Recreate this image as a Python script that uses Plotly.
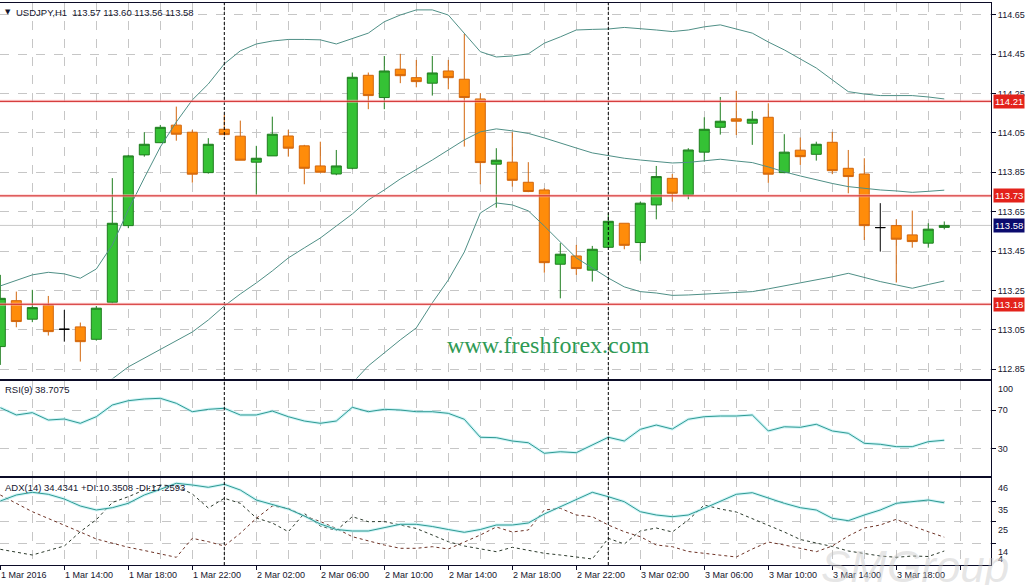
import pandas as pd
import plotly.graph_objects as go

# ---------------- data ----------------
times = pd.date_range("2016-03-01 10:00", periods=60, freq="h")
bars = list(range(len(times)))

opens = [112.965, 113.198, 113.104, 113.175, 113.053, 113.065, 113.002, 113.190, 113.579, 113.938,
         114.000, 114.089, 114.053, 113.848, 114.068, 114.033, 113.901, 113.933, 114.034, 113.984,
         113.882, 113.841, 113.870, 114.342, 114.229, 114.373, 114.330, 114.302, 114.364, 114.322,
         114.222, 113.891, 113.901, 113.799, 113.760, 113.383, 113.425, 113.353, 113.469, 113.591,
         113.493, 113.684, 113.819, 113.735, 113.952, 114.078, 114.121, 114.099, 114.129, 113.848,
         113.962, 113.941, 114.002, 113.870, 113.841, 113.569, 113.579, 113.532, 113.490, 113.570]
highs = [113.329, 113.244, 113.253, 113.222, 113.151, 113.087, 113.171, 113.820, 113.938, 114.053,
         114.090, 114.183, 114.065, 114.023, 114.141, 114.112, 113.984, 114.132, 114.065, 113.989,
         114.005, 113.963, 114.356, 114.356, 114.440, 114.451, 114.420, 114.440, 114.420, 114.552,
         114.251, 113.972, 114.053, 113.901, 113.769, 113.490, 113.481, 113.476, 113.642, 113.591,
         113.700, 113.882, 113.841, 113.972, 114.129, 114.232, 114.263, 114.161, 114.200, 114.043,
         114.026, 114.005, 114.055, 113.963, 113.921, 113.693, 113.611, 113.655, 113.591, 113.600]
lows = [112.872, 113.063, 113.089, 113.021, 112.990, 112.889, 112.995, 113.185, 113.566, 113.929,
        113.998, 114.010, 113.797, 113.843, 114.041, 113.911, 113.735, 113.933, 113.929, 113.789,
        113.850, 113.835, 113.865, 114.170, 114.170, 114.302, 114.281, 114.239, 114.271, 113.980,
        113.789, 113.670, 113.777, 113.749, 113.340, 113.210, 113.329, 113.295, 113.465, 113.459,
        113.401, 113.611, 113.701, 113.713, 113.904, 114.041, 114.039, 113.989, 113.796, 113.845,
        113.887, 113.909, 113.840, 113.743, 113.506, 113.447, 113.290, 113.467, 113.467, 113.560]
closes = [113.210, 113.092, 113.163, 113.041, 113.053, 112.990, 113.160, 113.591, 113.933, 113.992,
          114.078, 114.043, 113.840, 113.992, 114.041, 113.911, 113.921, 114.043, 113.972, 113.870,
          113.850, 113.882, 114.332, 114.239, 114.364, 114.340, 114.310, 114.354, 114.330, 114.229,
          113.899, 113.911, 113.809, 113.752, 113.391, 113.434, 113.361, 113.459, 113.601, 113.479,
          113.693, 113.828, 113.743, 113.963, 114.068, 114.109, 114.109, 114.119, 113.840, 113.952,
          113.929, 113.992, 113.858, 113.828, 113.579, 113.569, 113.510, 113.498, 113.561, 113.580]

bb_upper = [113.273, 113.303, 113.329, 113.342, 113.334, 113.312, 113.359, 113.481, 113.659, 113.821,
            113.978, 114.105, 114.217, 114.298, 114.400, 114.466, 114.501, 114.516, 114.524, 114.524,
            114.522, 114.501, 114.527, 114.556, 114.614, 114.648, 114.674, 114.674, 114.648, 114.557,
            114.462, 114.435, 114.440, 114.451, 114.505, 114.537, 114.572, 114.575, 114.577, 114.585,
            114.580, 114.572, 114.564, 114.572, 114.588, 114.598, 114.577, 114.556, 114.511, 114.471,
            114.425, 114.379, 114.319, 114.259, 114.247, 114.239, 114.239, 114.239, 114.232, 114.222]
bb_middle = [None] * 6 + [
            112.755, 112.801, 112.862, 112.907, 112.948, 112.994, 113.039, 113.100, 113.171, 113.232,
            113.288, 113.349, 113.415, 113.466, 113.516, 113.577, 113.638, 113.709, 113.760, 113.816,
            113.862, 113.912, 113.963, 114.014, 114.055, 114.070, 114.060, 114.047, 114.024, 113.997,
            113.973, 113.948, 113.933, 113.921, 113.912, 113.905, 113.897, 113.900, 113.907, 113.916,
            113.907, 113.899, 113.877, 113.852, 113.831, 113.811, 113.793, 113.777, 113.768, 113.760,
            113.755, 113.748, 113.753, 113.759]
bb_lower = [None] * 21 + [
            112.653, 112.780, 112.867, 112.933, 112.999, 113.060, 113.187, 113.303, 113.445,
            113.643, 113.694, 113.684, 113.654, 113.577, 113.498, 113.415, 113.364, 113.313, 113.268,
            113.244, 113.237, 113.225, 113.227, 113.232, 113.237, 113.240, 113.244, 113.258, 113.273,
            113.288, 113.303, 113.319, 113.337, 113.316, 113.295, 113.278, 113.261, 113.280, 113.298]

rsi = [72.7, 65.1, 67.5, 59.8, 60.9, 56.4, 63.3, 75.5, 80.0, 81.8,
       82.5, 77.3, 68.5, 71.0, 72.1, 65.1, 65.1, 69.2, 63.3, 58.8,
       56.4, 58.8, 73.1, 68.5, 71.0, 70.3, 68.5, 68.5, 66.8, 60.6,
       41.8, 41.4, 37.9, 36.1, 25.1, 26.7, 25.7, 33.7, 41.8, 37.9,
       50.1, 54.6, 50.4, 60.6, 63.3, 64.0, 64.0, 65.1, 48.4, 52.8,
       52.2, 55.4, 48.4, 46.0, 35.5, 34.5, 32.0, 32.0, 37.2, 38.7075]

adx = [35.35, 38.35, 39.7, 38.7, 36.35, 32.85, 30.85, 32.0, 34.2, 38.35,
       41.2, 44.2, 43.35, 42.2, 43.7, 40.85, 35.85, 33.6, 31.35, 27.85,
       23.85, 21.1, 20.35, 20.35, 21.85, 23.7, 23.7, 22.6, 21.1, 19.7,
       21.1, 23.35, 23.35, 24.35, 28.85, 32.5, 36.2, 39.7, 37.5, 35.0,
       30.0, 28.35, 27.5, 28.35, 31.7, 35.0, 38.7, 39.5, 36.7, 34.2,
       32.0, 30.85, 26.7, 25.5, 28.35, 30.85, 34.2, 35.0, 35.85, 34.4341]
plus_di = [11.2, 9.85, 8.35, 10.6, 12.85, 20.0, 26.0, 34.6, 37.5, 40.85,
           43.35, 42.85, 38.85, 31.85, 36.7, 34.2, 26.85, 24.35, 20.0, 29.15,
           22.85, 20.6, 27.5, 25.0, 25.1, 23.35, 21.6, 18.35, 15.0, 12.85,
           11.35, 10.0, 12.2, 10.85, 9.2, 8.35, 7.5, 6.35, 16.7, 13.85,
           20.35, 21.85, 19.85, 25.85, 33.35, 31.35, 29.85, 26.6, 23.35, 19.85,
           16.1, 14.35, 12.6, 10.35, 9.1, 7.85, 7.2, 7.85, 7.6, 10.3508]
minus_di = [38.35, 34.35, 30.0, 26.6, 23.35, 19.85, 16.35, 14.35, 12.2, 10.6,
            8.85, 7.2, 16.7, 15.0, 12.85, 19.2, 26.7, 32.85, 31.7, 27.85,
            25.1, 21.6, 17.5, 15.35, 13.35, 11.7, 11.7, 12.5, 11.35, 14.85,
            18.35, 22.35, 19.85, 20.85, 30.85, 31.7, 28.35, 27.5, 23.35, 20.0,
            17.5, 13.35, 12.5, 10.1, 9.2, 8.1, 7.35, 11.35, 14.85, 13.35,
            11.7, 10.0, 12.85, 17.85, 21.85, 23.35, 26.2, 22.85, 20.0, 17.2593]

price_ticks = [112.85, 113.05, 113.25, 113.45, 113.65, 113.85, 114.05, 114.25, 114.45, 114.65]
rsi_ticks = [70, 30]
adx_ticks = [35, 25, 14]
adx_labels = [46, 35, 25, 14, 4]
levels = [114.21, 113.73, 113.18]
symbol = "USDJPY,H1"

# ---------------- geometry / style ----------------
W, H = 1033, 585
ML, MR, MT, MB = 0, 42, 3, 20
PW, PH = W - ML - MR, H - MT - MB


def fx(px):
    return (px - ML) / PW


def fy(py):
    return (H - MB - py) / PH


FONT = "Liberation Sans"
TXT = "#15152e"
FRAME = "#0b0b26"
GRID = "#c6c6c6"
BULL_FILL, BULL_LINE = "#35c235", "#1f7d1f"
BEAR_FILL, BEAR_LINE = "#ff8c0a", "#d2660c"
BAND = "#4f8f86"
TEAL = "#2f9a92"

fig = go.Figure()

bull = [i for i in bars if closes[i] > opens[i]]
bear = [i for i in bars if closes[i] < opens[i]]
doji = [i for i in bars if closes[i] == opens[i]]


def candles(ids, inc_line, inc_fill, dec_line, dec_fill):
    return go.Candlestick(
        x=[bars[i] for i in ids], open=[opens[i] for i in ids], high=[highs[i] for i in ids],
        low=[lows[i] for i in ids], close=[closes[i] for i in ids],
        increasing=dict(line=dict(color=inc_line, width=1), fillcolor=inc_fill),
        decreasing=dict(line=dict(color=dec_line, width=1), fillcolor=dec_fill),
        whiskerwidth=0, showlegend=False, xaxis="x", yaxis="y")


# Bollinger bands
for band in (bb_upper, bb_middle, bb_lower):
    fig.add_trace(go.Scatter(x=bars, y=band, mode="lines", line=dict(color=BAND, width=1),
                             showlegend=False, xaxis="x", yaxis="y"))

fig.add_trace(candles(bull, BULL_LINE, BULL_FILL, BULL_LINE, BULL_FILL))
fig.add_trace(candles(bear, BEAR_LINE, BEAR_FILL, BEAR_LINE, BEAR_FILL))
fig.add_trace(candles(doji, "#000000", "#000000", "#000000", "#000000"))

# RSI
fig.add_trace(go.Scatter(x=bars, y=rsi, mode="lines", line=dict(color="rgba(170,235,240,0.55)", width=3),
                         showlegend=False, xaxis="x2", yaxis="y2"))
fig.add_trace(go.Scatter(x=bars, y=rsi, mode="lines", line=dict(color=TEAL, width=1),
                         showlegend=False, xaxis="x2", yaxis="y2"))

# ADX
fig.add_trace(go.Scatter(x=bars, y=plus_di, mode="lines", line=dict(color="#2c3a2c", width=1, dash="3px,3px"),
                         showlegend=False, xaxis="x3", yaxis="y3"))
fig.add_trace(go.Scatter(x=bars, y=minus_di, mode="lines", line=dict(color="#6e3326", width=1, dash="3px,3px"),
                         showlegend=False, xaxis="x3", yaxis="y3"))
fig.add_trace(go.Scatter(x=bars, y=adx, mode="lines", line=dict(color="rgba(170,235,240,0.55)", width=3),
                         showlegend=False, xaxis="x3", yaxis="y3"))
fig.add_trace(go.Scatter(x=bars, y=adx, mode="lines", line=dict(color=TEAL, width=1),
                         showlegend=False, xaxis="x3", yaxis="y3"))

xrange = [-0.02, 61.92]
tick_font = dict(family=FONT, size=9, color=TXT)


def xax(**kw):
    d = dict(range=xrange, showgrid=True, gridcolor=GRID, griddash="dash", gridwidth=1,
             tick0=0, dtick=2, showticklabels=False, ticks="", showline=True, mirror=True,
             linecolor=FRAME, linewidth=1, zeroline=False, fixedrange=True,
             rangeslider=dict(visible=False))
    d.update(kw)
    return d


yax_common = dict(side="right", ticks="outside", ticklen=4, tickcolor=FRAME, showgrid=True,
                  gridcolor=GRID, griddash="dash", showline=True, linecolor=FRAME, linewidth=1,
                  zeroline=False, tickfont=tick_font, fixedrange=True)

fig.update_layout(
    width=W, height=H, margin=dict(l=ML, r=MR, t=MT, b=MB),
    paper_bgcolor="white", plot_bgcolor="rgba(0,0,0,0)",
    boxgap=0.375, boxgroupgap=0,
    xaxis=xax(domain=[0, 1], anchor="y"),
    xaxis2=xax(domain=[0, 1], anchor="y2", matches="x"),
    xaxis3=xax(domain=[0, 1], anchor="y3", matches="x", dtick=4, ticks="outside", ticklen=4,
               tickcolor=FRAME,
               minor=dict(dtick=2, tick0=0, showgrid=True, gridcolor=GRID, griddash="dash", ticks="")),
    yaxis=dict(domain=[fy(378.5), 1], range=[112.803, 114.709], tickvals=price_ticks,
               ticktext=[f"{v:.2f}" for v in price_ticks], anchor="x", **yax_common),
    yaxis2=dict(domain=[fy(476), fy(380.5)], range=[1.36, 101.1], tickvals=rsi_ticks,
                ticktext=[str(v) for v in rsi_ticks], anchor="x2", **yax_common),
    yaxis3=dict(domain=[0, fy(478)], range=[3.35, 46.85], tickvals=adx_ticks,
                showticklabels=False, anchor="x3", **{k: v for k, v in yax_common.items() if k != "tickfont"}),
    showlegend=False,
)

shapes = []
# period separators at day boundaries
for i, t in enumerate(times):
    if t.hour == 0:
        shapes.append(dict(type="line", xref="x", yref="paper", x0=bars[i], x1=bars[i], y0=0, y1=1,
                           line=dict(color="#000000", width=1, dash="3px,2px"), layer="above"))
# bid line
shapes.append(dict(type="line", xref="x domain", yref="y", x0=0, x1=1, y0=closes[-1], y1=closes[-1],
                   line=dict(color="#c9c9c9", width=1), layer="below"))
# horizontal levels
for lv in levels:
    shapes.append(dict(type="line", xref="x domain", yref="y", x0=0, x1=1, y0=lv, y1=lv,
                       line=dict(color="rgba(255,190,190,0.6)", width=3), layer="above"))
    shapes.append(dict(type="line", xref="x domain", yref="y", x0=0, x1=1, y0=lv, y1=lv,
                       line=dict(color="#cc1a1a", width=1), layer="above"))
fig.update_layout(shapes=shapes)

ann = []
# header
ann.append(dict(xref="paper", yref="paper", x=fx(3), y=fy(12), text="▼", showarrow=False,
                xanchor="left", yanchor="middle", font=dict(family="DejaVu Sans", size=7, color=TXT)))
ann.append(dict(xref="paper", yref="paper", x=fx(14), y=fy(12),
                text=f"{symbol}  {opens[-1]:.2f} {highs[-1]:.2f} {lows[-1]:.2f} {closes[-1]:.2f}",
                showarrow=False, xanchor="left", yanchor="middle",
                font=dict(family=FONT, size=9.5, color=TXT)))
ann.append(dict(xref="paper", yref="paper", x=fx(3), y=fy(390), text=f"RSI(9) {rsi[-1]:.4f}",
                showarrow=False, xanchor="left", yanchor="middle", font=dict(family=FONT, size=9.5, color=TXT)))
ann.append(dict(xref="paper", yref="paper", x=fx(3), y=fy(487),
                text=f"ADX(14) {adx[-1]:.4f} +DI:{plus_di[-1]:.4f} -DI:{minus_di[-1]:.4f}",
                showarrow=False, xanchor="left", yanchor="middle", font=dict(family=FONT, size=9.5, color=TXT)))

# right-side value boxes
for lv in levels:
    ann.append(dict(xref="paper", yref="y", x=1, y=lv, xshift=2, text=f"{lv:.2f}", showarrow=False,
                    xanchor="left", yanchor="middle", bgcolor="#e3221b", borderpad=1,
                    font=dict(family=FONT, size=9.5, color="white")))
ann.append(dict(xref="paper", yref="y", x=1, y=closes[-1], xshift=2, text=f"{closes[-1]:.2f}",
                showarrow=False, xanchor="left", yanchor="middle", bgcolor="#0b0b6e", borderpad=1,
                font=dict(family=FONT, size=9.5, color="white")))

# RSI scale end labels
ann.append(dict(xref="paper", yref="y2", x=1, y=100, xshift=5, yshift=-7, text="100", showarrow=False,
                xanchor="left", yanchor="middle", font=tick_font))
ann.append(dict(xref="paper", yref="y2", x=1, y=0, xshift=5, yshift=8, text="0", showarrow=False,
                xanchor="left", yanchor="middle", font=tick_font))
# ADX scale labels
for v in adx_labels:
    ann.append(dict(xref="paper", yref="y3", x=1, y=v, xshift=5, yshift=(5 if v == adx_labels[-1] else -8),
                    text=str(v), showarrow=False, xanchor="left", yanchor="middle", font=tick_font))

# time labels
for i, t in enumerate(times):
    if i % 4 == 0:
        label = t.strftime("%-d %b %Y") if i == 0 else t.strftime("%-d %b %H:%M")
        ann.append(dict(xref="x3", yref="paper", x=bars[i], y=fy(575), xshift=-1, text=label,
                        showarrow=False, xanchor="left", yanchor="middle", font=tick_font))

# watermarks
ann.append(dict(xref="paper", yref="paper", x=fx(548), y=fy(345), text="www.freshforex.com",
                showarrow=False, xanchor="center", yanchor="middle",
                font=dict(family="Liberation Serif", size=24, color="#2f9a55")))
ann.append(dict(xref="paper", yref="paper", x=fx(915), y=fy(566), text="SMGroup",
                showarrow=False, xanchor="center", yanchor="middle",
                font=dict(family=FONT, size=44, color="rgba(200,200,200,0.45)", style="italic")))

fig.update_layout(annotations=ann)
fig.write_html("out.html", config={"displayModeBar": False},
               post_script="document.body.style.margin='0';document.body.style.overflow='hidden';")
